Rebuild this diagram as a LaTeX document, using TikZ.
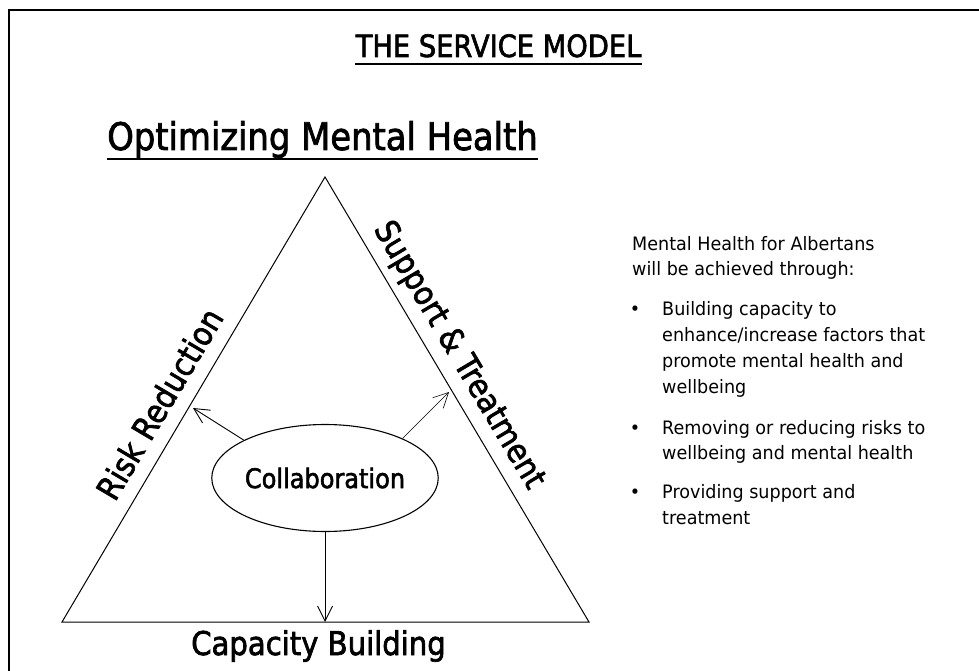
\documentclass[tikz,border=0pt]{standalone}
\usepackage{fontspec}
\usetikzlibrary{shapes.geometric,arrows.meta}
% Humanist sans, narrowed a little; headings emboldened
\newfontfamily\headfont[FakeStretch=0.89,FakeBold=2]{DejaVu Sans}
\newfontfamily\bodyfont[FakeStretch=0.95]{DejaVu Sans}
\begin{document}
\begin{tikzpicture}[x=1pt,y=-1pt,
  heading/.style={inner sep=0pt, anchor=base, font=\headfont\fontsize{#1}{#1}\selectfont},
  sidelabel/.style={inner sep=0pt, anchor=base, font=\headfont\fontsize{32.7}{32.7}\selectfont},
  bodyline/.style={inner sep=0pt, anchor=base west, font=\bodyfont\fontsize{18.5}{22}\selectfont},
  bulletmark/.style={inner sep=0pt, anchor=base, font=\bodyfont\fontsize{18.5}{22}\selectfont},
  edge/.style={line width=1pt, line join=miter},
  flow/.style={-{Straight Barb[length=15pt,width=15pt]}, line width=0.9pt},
  underline/.style={line width=2.6pt}
]
\useasboundingbox (0,0) rectangle (979,671);

% outer frame (its right and bottom sides lie beyond the page)
\begin{scope}
  \clip (0,0) rectangle (979,671);
  \draw[line width=2pt] (9,700) -- (9,10) -- (1000,10);
\end{scope}

% headings
\node[heading=30.7] (title) at (498.5,57) {THE SERVICE MODEL};
\draw[underline] ([yshift=-7pt]title.base west) -- ([yshift=-7pt]title.base east);

\node[heading=38] (goal) at (322.5,150) {Optimizing Mental Health};
\draw[underline] ([yshift=-9pt]goal.base west) -- ([yshift=-9pt]goal.base east);

% triangle
\coordinate (apex) at (325,177);
\coordinate (bl) at (62,622);
\coordinate (br) at (589,622);
\draw[edge] (apex) -- (br) -- (bl) -- cycle;

% side labels
\node[sidelabel, rotate=59.4] (risk) at (169.8,410) {Risk Reduction};
\node[sidelabel, rotate=-59.3] (support) at (451,360) {Support \& Treatment};
\node[sidelabel] (capacity) at (318.5,655) {Capacity Building};

% centre
\node[ellipse, draw, line width=1.1pt, minimum width=214pt, minimum height=107pt,
      inner sep=0pt, font=\headfont\fontsize{27}{27}\selectfont] (collab) at (325,478) {Collaboration};

\coordinate (baseTip) at (325,622);
\coordinate (riskTip) at (193,408);
\coordinate (suppTip) at (449,392);
\draw[flow] (collab.south) -- (baseTip);
\draw[flow] (collab.155) -- (riskTip);
\draw[flow, line width=0.6pt] (collab.27) -- (suppTip);

% explanatory text
\node[bodyline] (intro1) at (632,250) {Mental Health for Albertans};
\node[bodyline] (intro2) at (632,275) {will be achieved through:};

\node[bulletmark] (b1) at (635,315) {•};
\node[bodyline] (b1l1) at (662,315) {Building capacity to};
\node[bodyline] (b1l2) at (662,341) {enhance/increase factors that};
\node[bodyline] (b1l3) at (662,367) {promote mental health and};
\node[bodyline] (b1l4) at (662,393) {wellbeing};

\node[bulletmark] (b2) at (635,434) {•};
\node[bodyline] (b2l1) at (662,434) {Removing or reducing risks to};
\node[bodyline] (b2l2) at (662,459) {wellbeing and mental health};

\node[bulletmark] (b3) at (635,498) {•};
\node[bodyline] (b3l1) at (662,498) {Providing support and};
\node[bodyline] (b3l2) at (662,524) {treatment};
\end{tikzpicture}
\end{document}
